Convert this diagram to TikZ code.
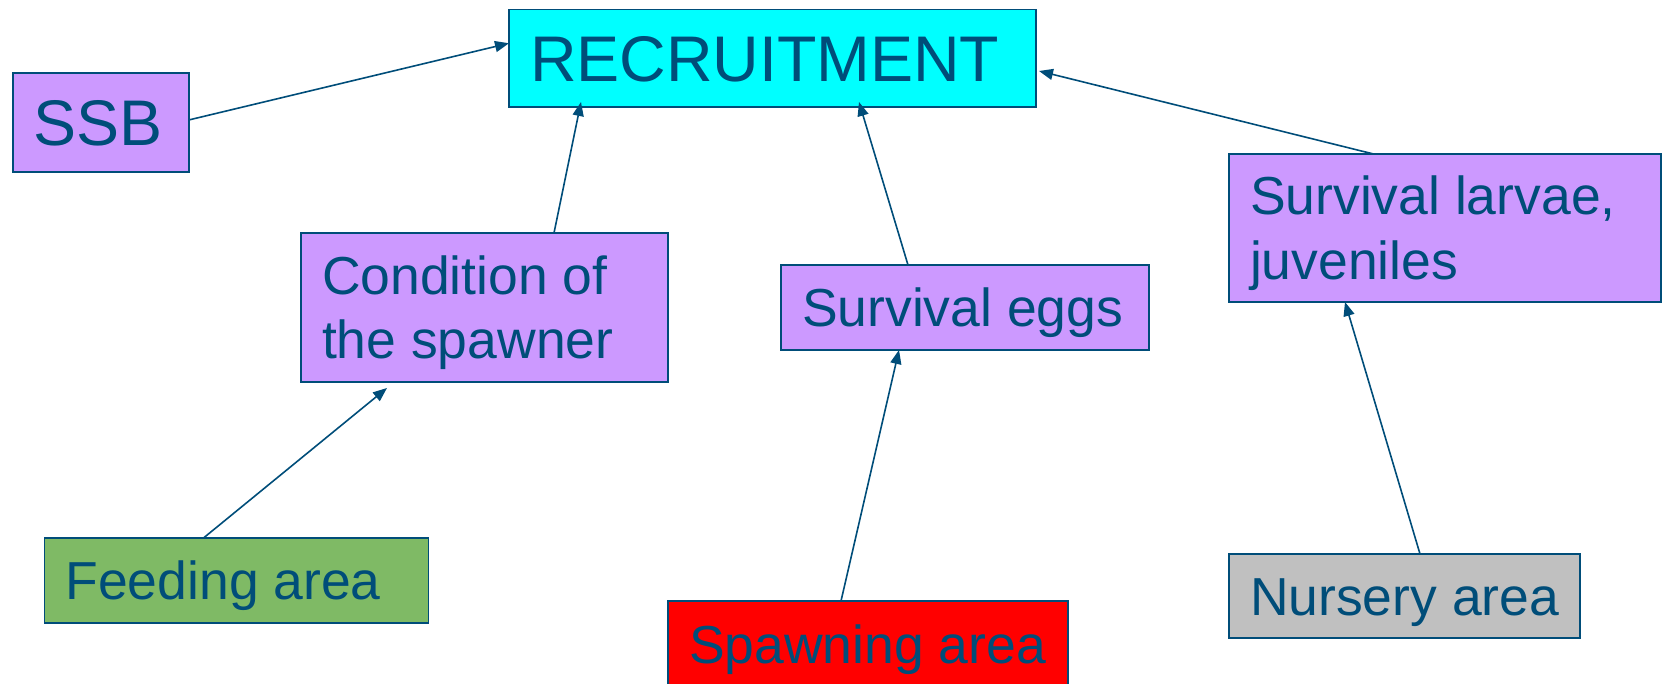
\documentclass[tikz,border=0pt]{standalone}
\usepackage{fontspec}
\setmainfont{Liberation Sans}
\usetikzlibrary{arrows.meta}
\definecolor{ln}{RGB}{0,77,121}
\definecolor{pur}{RGB}{204,153,255}
\definecolor{cyn}{RGB}{0,255,255}
\definecolor{grn}{RGB}{127,186,101}
\definecolor{rd}{RGB}{255,0,0}
\definecolor{gry}{RGB}{192,192,192}
\begin{document}
\begin{tikzpicture}[x=1pt,y=-1pt,
  bx/.style={draw=ln, line width=1.8pt, inner sep=0pt, outer sep=0pt, anchor=north west, text=ln, text depth=0pt},
  sm/.style={font=\fontsize{53.5pt}{64.5pt}\selectfont, text height=38.3pt},
  smtwo/.style={font=\fontsize{53.5pt}{64.5pt}\selectfont, text height=102.8pt},
  bg/.style={font=\fontsize{64.5pt}{76pt}\selectfont, text height=46.2pt},
  arr/.style={draw=ln, line width=1.6pt, -{Triangle[length=14pt,width=11pt]}}]
\useasboundingbox (0,0) rectangle (1663,684);
\clip (0,0) rectangle (1663,684);
\node[bx,bg,fill=cyn,minimum width=527pt,minimum height=97.5pt] (rec) at (509,9.5) {\makebox[485pt][l]{RECRUITMENT}};
\node[bx,bg,fill=pur,minimum width=176pt,minimum height=99pt] (ssb) at (12.7,73) {\makebox[134pt][l]{SSB}};
\node[bx,smtwo,fill=pur,minimum width=367pt,minimum height=149pt] (cond) at (301,233) {\parbox[b]{325pt}{\raggedright Condition of\\the spawner}};
\node[bx,sm,fill=pur,minimum width=368pt,minimum height=85pt] (eggs) at (781,265) {\makebox[326pt][l]{Survival eggs}};
\node[bx,smtwo,fill=pur,minimum width=432pt,minimum height=148pt] (larv) at (1229,154) {\parbox[b]{390pt}{\raggedright Survival larvae,\\juveniles}};
\node[bx,sm,fill=grn,minimum width=384pt,minimum height=85pt] (feed) at (44.5,538) {\makebox[342pt][l]{Feeding area}};
\node[bx,sm,fill=rd,minimum width=400pt,minimum height=86pt] (spawn) at (668,601) {\makebox[358pt][l]{Spawning area}};
\node[bx,sm,fill=gry,minimum width=351pt,minimum height=84pt] (nurs) at (1229,554) {\makebox[309pt][l]{Nursery area}};
\draw[arr] ([yshift=2.5pt]ssb.east) -- ([yshift=15pt]rec.west);
\draw[arr] ([xshift=69.5pt]cond.north) -- ([xshift=-191.5pt,yshift=5pt]rec.south);
\draw[arr] ([xshift=-57pt]eggs.north) -- ([xshift=86.5pt,yshift=5pt]rec.south);
\draw[arr] ([xshift=-71.5pt]larv.north) -- ([xshift=3pt,yshift=-12.75pt]rec.east);
\draw[arr] ([xshift=-33pt]feed.north) -- ([xshift=-97.5pt,yshift=-6pt]cond.south);
\draw[arr] ([xshift=-27pt]spawn.north) -- ([xshift=-66pt]eggs.south);
\draw[arr] ([xshift=15.5pt]nurs.north) -- ([xshift=-100pt]larv.south);
\end{tikzpicture}
\end{document}
